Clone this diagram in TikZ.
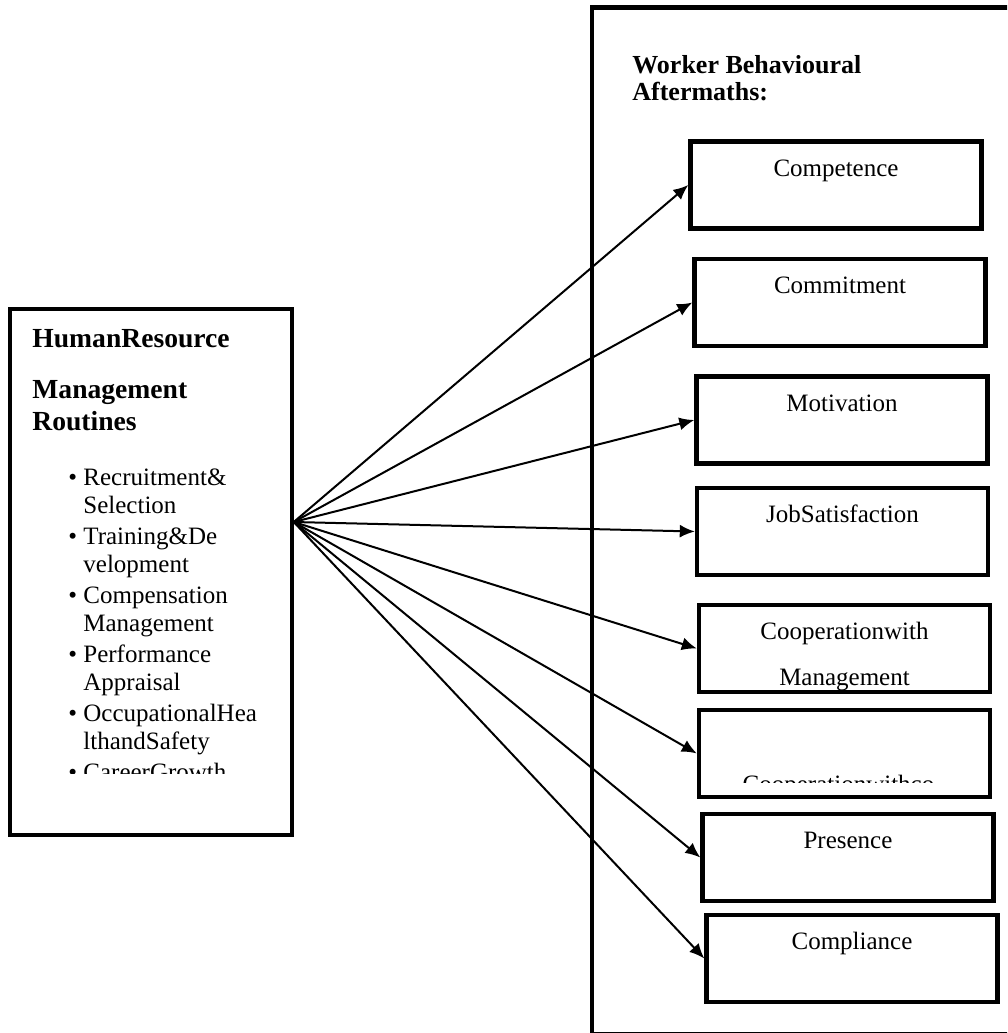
\documentclass[tikz,border=0pt]{standalone}
\usepackage{fontspec}
\setmainfont{Liberation Serif}
\usepackage{tikz}
\usetikzlibrary{positioning, arrows.meta}
\newcommand{\hrbul}{\textbullet\ }
\newcommand{\hrind}{\hphantom{\textbullet\ }}

\begin{document}
\begin{tikzpicture}[
  x=0.5pt, y=-0.5pt,
  font=\fontsize{12.5}{14}\selectfont,
  hrbox/.style={draw, line width=2pt, minimum width=140.75pt, minimum height=263pt, inner sep=0pt},
  bigbox/.style={draw, line width=2.4pt, minimum width=224pt, minimum height=513.5pt, inner sep=0pt},
  outbox/.style={draw, line width=2.2pt, minimum width=145.5pt, minimum height=43.5pt, inner sep=0pt},
  boxtxt/.style={anchor=base, inner sep=0pt, yshift=-18.5pt},
  head/.style={font=\fontsize{13.8}{16}\selectfont\bfseries, align=left, inner sep=0pt},
  listtxt/.style={align=left, inner sep=0pt},
  flow/.style={draw, line width=1pt, -{Latex[length=7.5pt, width=6.5pt]}},
]
  \useasboundingbox (0,0) rectangle (1007,1033);
  \clip (0,0) rectangle (1007,1033);

  % left: HRM routines
  \node[hrbox] (hrbox) at (151,572) {};
  \node[head, anchor=base west] (hrhead) at (32,430) {HumanResource\\[9.5pt]Management\\Routines};
  \begin{scope}
    \clip (0,0) rectangle (1007,773);
    \node[listtxt, anchor=base west] (hrlist) at (68,780)
      {\hrbul Recruitment\&\\\hrind Selection\\[1.5pt]
       \hrbul Training\&De\\\hrind velopment\\[1.5pt]
       \hrbul Compensation\\\hrind Management\\[1.5pt]
       \hrbul Performance\\\hrind Appraisal\\[1.5pt]
       \hrbul OccupationalHea\\\hrind lthandSafety\\[1.5pt]
       \hrbul CareerGrowth};
  \end{scope}
  \coordinate (hub) at ([yshift=25pt]hrbox.east);

  % right: behavioural aftermaths
  \node[bigbox] (aftermath) at (816,521) {};
  \node[head, font=\fontsize{13}{13.5}\selectfont\bfseries, anchor=base west] (wbhead) at (632,100) {Worker Behavioural\\Aftermaths:};

  \node[outbox, label={[boxtxt]north:Competence}] (comp) at (836,185) {};
  \node[outbox, label={[boxtxt]north:Commitment}] (commit) at (840,302.5) {};
  \node[outbox, label={[boxtxt]north:Motivation}] (motiv) at (842,420) {};
  \node[outbox, label={[boxtxt]north:JobSatisfaction}] (jobsat) at (842.5,531.5) {};
  \node[outbox, label={[boxtxt]north:Cooperationwith},
        label={[boxtxt, yshift=-23pt]north:Management}] (coopmgmt) at (844.5,648.5) {};
  \node[outbox] (coopcow) at (844.5,753.5) {};
  \begin{scope}
    \clip (690,700) rectangle (1000,782);
    \node[inner sep=0pt, anchor=base] (coopcowtxt) at ([xshift=-3pt, yshift=-42.5pt]coopcow.north) {Cooperationwithco};
  \end{scope}
  \node[outbox, label={[boxtxt]north:Presence}] (presence) at (848,857.5) {};
  \node[outbox, label={[boxtxt]north:Compliance}] (compl) at (852,958.5) {};

  % links
  \draw[flow] (hub) -- (comp.west);
  \draw[flow] (hub) -- (commit.west);
  \draw[flow] (hub) -- (motiv.west);
  \draw[flow] (hub) -- (jobsat.west);
  \draw[flow] (hub) -- (coopmgmt.west);
  \draw[flow] (hub) -- (coopcow.west);
  \draw[flow] (hub) -- (presence.west);
  \draw[flow] (hub) -- (compl.west);
\end{tikzpicture}
\end{document}
